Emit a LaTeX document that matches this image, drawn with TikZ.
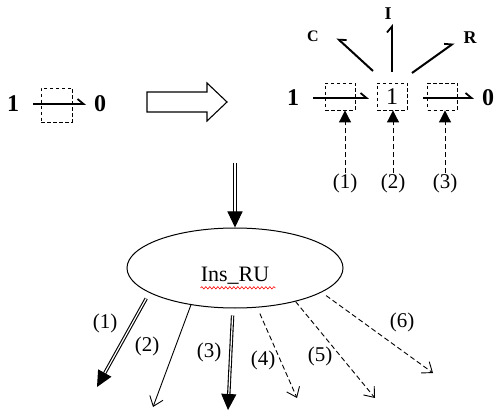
\documentclass[tikz,border=0pt]{standalone}
\usepackage{fontspec}
\setmainfont{Liberation Serif}
\usetikzlibrary{arrows.meta,shapes.geometric,decorations.pathmorphing}
\begin{document}
\begin{tikzpicture}[x=1pt,y=-1pt,
  dbox/.style={draw,dash pattern=on 3.5pt off 2.5pt,line width=0.9pt,minimum width=30pt,minimum height=27pt,inner sep=0pt},
  bigd/.style={font=\bfseries\fontsize{24}{24}\selectfont,inner sep=0pt},
  smalll/.style={font=\bfseries\fontsize{16}{16}\selectfont,inner sep=0pt},
  lab/.style={font=\fontsize{21}{21}\selectfont,inner sep=0pt},
  harp/.style={line width=2pt,-{Straight Barb[left,length=6pt,width=10pt,line width=1.8pt]}},
  harpr/.style={line width=2pt,-{Straight Barb[right,length=6pt,width=10pt,line width=1.8pt]}},
  dup/.style={dash pattern=on 5pt off 3pt,line width=1pt,-{Triangle[length=12pt,width=12pt]}},
  dbl/.style={double,line width=1pt,double distance=1.8pt,-{Triangle[length=16pt,width=15pt]}},
  thin/.style={line width=0.9pt,-{Straight Barb[length=9pt,width=14pt,line width=0.9pt]}},
  dsh/.style={dash pattern=on 5pt off 3pt,line width=0.9pt,-{Straight Barb[length=9pt,width=14pt,line width=0.9pt]}}
]
\useasboundingbox (0,0) rectangle (502,411);
% left part
\node[bigd] (l1) at (13,104) {1};
\node[bigd] (l0) at (100,104) {0};
\node[dbox,minimum height=34pt,minimum width=31pt] (lb) at (56.5,105) {};
\coordinate (la) at (33,104);
\coordinate (lz) at (86,104);
\draw[harp] (la) -- (lz);
% big open arrow
\draw[line width=1.1pt] (147,92) -- (207,92) -- (207,83) -- (227,102) -- (207,121) -- (207,112) -- (147,112) -- cycle;
% right part
\node[bigd] (r1) at (293,98) {1};
\node[bigd] (r0) at (488,98) {0};
\node[dbox] (b1) at (340,96.5) {};
\node[dbox,font=\fontsize{24}{24}\selectfont] (b2) at (392,96.5) {1};
\node[dbox] (b3) at (442.5,96.5) {};
\coordinate (ra1) at (313,98);
\coordinate (rz1) at (369,98);
\coordinate (ra3) at (423,98);
\coordinate (rz3) at (474,98);
\draw[harp] (ra1) -- (rz1);
\draw[harp] (ra3) -- (rz3);
\node[smalll] (c) at (313,36) {C};
\node[bigd,font=\bfseries\fontsize{18}{18}\selectfont] (i) at (388,14) {I};
\node[bigd,font=\bfseries\fontsize{18}{18}\selectfont] (r) at (470,38) {R};
\coordinate (cs) at (373,71);
\coordinate (ce) at (337,38);
\coordinate (is) at (392,72);
\coordinate (ie) at (392,24);
\coordinate (rs) at (412,73);
\coordinate (re) at (454,43);
\draw[harpr] (cs) -- (ce);
\draw[harp] (is) -- (ie);
\draw[harp] (rs) -- (re);
% labels and dashed arrows
\node[lab] (p1) at (345,183) {(1)};
\node[lab] (p2) at (393,183) {(2)};
\node[lab] (p3) at (445,183) {(3)};
\draw[dup] (p1.north) -- (p1.north |- b1.south);
\draw[dup] (p2.north) -- (p2.north |- b2.south);
\draw[dup] (p3.north) -- (p3.north |- b3.south);
% ellipse
\node[ellipse,draw,line width=1pt,minimum width=216pt,minimum height=80pt,inner sep=0pt] (e) at (235,268) {};
\node[font=\fontsize{22}{22}\selectfont,inner sep=0pt] (t) at (235,276) {Ins\_RU};
\draw[red,line width=0.6pt,decorate,decoration={snake,amplitude=1.2pt,segment length=4pt}] (t.south west) ++(0,3) -- ++(75,0);
\coordinate (top) at (235,163);
\draw[dbl] (top) -- (e.north);
% outgoing
\coordinate (t1) at (97,387);
\coordinate (t2) at (153,407);
\coordinate (t3) at (228,410);
\coordinate (t4) at (297,398);
\coordinate (t5) at (375,398);
\coordinate (t6) at (433,373);
\draw[dbl,line width=1.1pt,double distance=1.2pt] (e.199) ++(-9,3) -- (t1);
\draw[thin] (e.220) -- (t2);
\draw[dbl,line width=1.1pt,double distance=1.2pt] (e.268) ++(-1,7) -- (t3);
\draw[dsh] (e.300) ++(2,6) -- (t4);
\draw[dsh] (e.331) -- (t5);
\draw[dsh] (e.345) ++(3,4) -- (t6);
\node[lab] (q1) at (105,323) {(1)};
\node[lab] (q2) at (147,346) {(2)};
\node[lab] (q3) at (209,352) {(3)};
\node[lab] (q4) at (263,360) {(4)};
\node[lab] (q5) at (320,356) {(5)};
\node[lab] (q6) at (402,322) {(6)};
\end{tikzpicture}
\end{document}
